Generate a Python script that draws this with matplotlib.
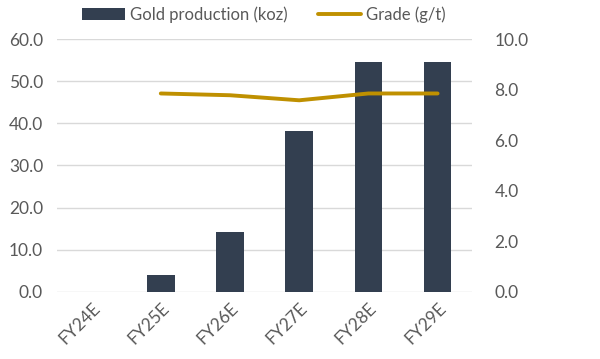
import numpy as np
import matplotlib
matplotlib.use('Agg')
from matplotlib import pyplot as plt

# Chart data
years = ['FY24E', 'FY25E', 'FY26E', 'FY27E', 'FY28E', 'FY29E']
gold_koz = [0.0, 3.9, 14.2, 38.2, 54.6, 54.6]
grade_gt = [np.nan, 7.85, 7.78, 7.58, 7.85, 7.85]
left_ticks = [0, 10, 20, 30, 40, 50, 60]
right_ticks = [0, 2, 4, 6, 8, 10]

BAR_COLOR = '#333f50'
LINE_COLOR = '#bf9000'
TEXT_COLOR = '#595959'

plt.rcParams['font.family'] = ['Lato', 'DejaVu Sans']

fig = plt.figure(figsize=(6, 3.59), dpi=100)
ax1 = fig.add_axes([0.095, 0.187, 0.692, 0.704])
ax2 = ax1.twinx()

x = np.arange(len(years))
ax1.bar(x, gold_koz, width=0.4, color=BAR_COLOR, label='Gold production (koz)', zorder=2)
ax2.plot(x, grade_gt, color=LINE_COLOR, lw=2.8, solid_capstyle='round',
         label='Grade (g/t)', zorder=3)

ax1.set_xlim(-0.5, len(years) - 0.5)
ax1.set_ylim(0, 60)
ax2.set_ylim(0, 10)
ax1.set_yticks(left_ticks)
ax1.set_yticklabels([f'{v:.1f}' for v in left_ticks])
ax2.set_yticks(right_ticks)
ax2.set_yticklabels([f'{v:.1f}' for v in right_ticks])
ax1.set_xticks(x)
ax1.set_xticklabels(years, rotation=45, ha='right', rotation_mode='anchor')

ax1.grid(axis='y', color='#d9d9d9', lw=1.0, zorder=0)
ax1.set_axisbelow(True)
for ax in (ax1, ax2):
    for s in ax.spines.values():
        s.set_visible(False)
    ax.tick_params(length=0, colors=TEXT_COLOR, labelsize=12.5)
ax1.tick_params(axis='y', pad=10)
ax2.tick_params(axis='y', pad=16)
ax1.tick_params(axis='x', pad=6)

ax2.set_zorder(ax1.get_zorder() + 1)
ax2.patch.set_visible(False)

h1, l1 = ax1.get_legend_handles_labels()
h2, l2 = ax2.get_legend_handles_labels()
fig.legend(h1 + h2, l1 + l2, loc='upper center', bbox_to_anchor=(0.44, 1.025),
           ncol=2, frameon=False, fontsize=12, labelcolor=TEXT_COLOR,
           handlelength=2.6, handletextpad=0.3, columnspacing=1.8)

fig.savefig('out.png', dpi=100)
